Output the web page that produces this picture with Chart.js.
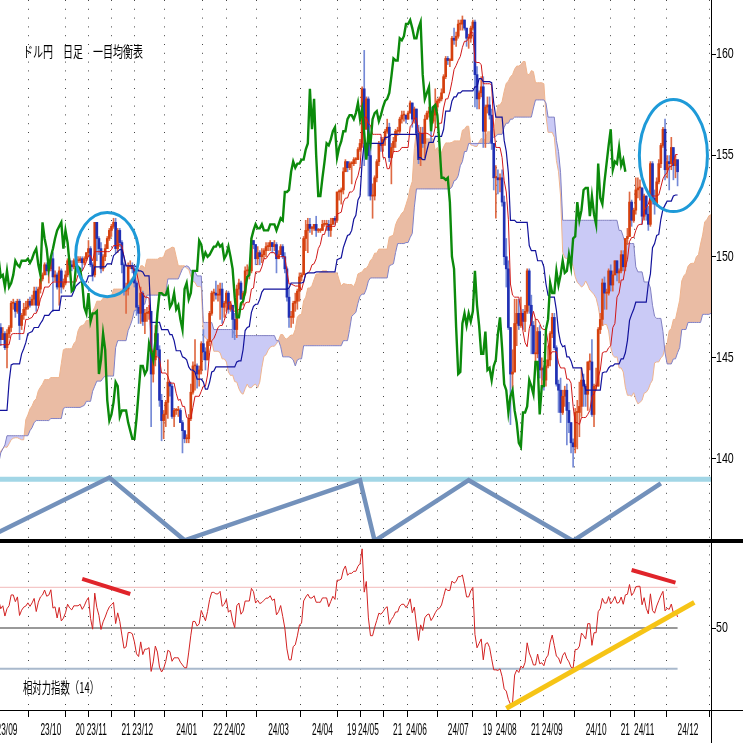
<!DOCTYPE html>
<html lang="ja">
  <head>
    <meta charset="UTF-8" />
    <title>ドル円 日足 一目均衡表</title>
    <style>
      * { margin: 0; padding: 0; border: none; box-sizing: border-box; }
      body { background: #fff; }
      #grafico { width: 743px; height: 743px; }
    </style>
  </head>
  <body>
    <div id="grafico"><canvas id="grafico1" width="743" height="743"></canvas></div>

    <script src="https://cdn.jsdelivr.net/npm/chart.js"></script>
    <script>
      // 日足（平日のみ）2023/05/01 〜 2024/11/25
      const START = '2023-05-01'
      const ORIGIN = '2023-09-01'

      const closes = [
        137.5,136.6,134.7,134.3,134.8,135.1,135.2,134.4,134.5,135.7,136.1,136.4,137.6,138.7,137.9,138.6,138.6,139.5,140.0,140.6,140.4,139.8,139.3,
        138.8,139.9,139.6,139.6,140.1,139.0,139.4,139.6,140.2,140.0,140.3,141.8,141.9,141.5,141.9,143.1,143.7,143.5,143.9,144.3,144.7,144.3,
        144.6,144.5,144.6,144.1,142.1,141.3,140.4,138.4,138.1,138.8,138.7,139.3,139.6,140.0,141.8,141.5,140.9,140.3,139.5,141.2,142.3,
        143.3,143.3,142.6,141.8,142.5,143.4,143.7,144.7,144.9,145.6,145.6,146.3,145.8,145.4,146.2,145.9,144.8,146.1,146.4,146.5,145.9,146.2,145.5,
        146.2,146.5,147.7,147.7,147.3,147.8,146.6,147.1,147.4,147.5,147.8,147.6,147.9,148.3,147.6,148.4,148.9,149.1,149.6,149.3,149.4,
        149.9,149.0,149.1,148.5,149.3,148.5,148.7,149.1,149.8,149.6,149.5,149.8,149.8,149.8,149.9,149.7,149.9,150.2,150.4,149.6,149.1,151.7,
        150.9,150.4,149.4,150.0,150.4,150.9,151.3,151.5,151.7,150.4,151.3,150.7,149.6,148.3,148.4,149.5,149.5,149.4,148.7,147.5,147.2,148.2,
        146.8,147.2,147.2,147.3,144.2,144.9,146.2,145.4,142.9,141.9,142.2,142.8,143.8,143.6,142.1,142.4,142.4,142.4,141.8,141.4,141.0,
        141.0,142.0,143.3,144.6,144.6,144.2,144.4,145.7,145.3,144.9,145.8,147.2,148.2,148.2,148.1,148.1,148.4,147.5,147.7,148.2,147.4,147.6,146.9,
        146.4,148.4,148.7,147.9,148.2,149.3,149.3,149.3,150.8,150.6,149.9,150.2,150.0,150.1,150.3,150.5,150.5,150.7,150.5,150.6,149.9,
        150.1,150.5,150.0,149.4,148.0,147.0,147.0,147.7,147.8,148.3,149.0,149.1,150.9,151.3,151.6,151.4,151.4,151.6,151.3,151.3,151.3,
        151.6,151.6,151.6,151.3,151.6,151.9,151.8,153.2,153.2,153.3,154.2,154.7,154.4,154.6,154.6,154.8,154.8,155.3,155.6,158.3,156.3,157.8,
        155.0,153.0,153.0,153.9,154.7,155.6,155.5,155.8,156.2,156.4,154.9,155.4,155.7,156.2,156.2,156.8,157.0,157.0,156.8,157.1,157.6,156.8,157.3,
        156.1,154.8,156.1,155.6,156.8,157.1,157.2,156.7,157.0,157.4,157.7,157.8,158.1,158.9,159.8,159.7,159.7,160.8,160.7,160.9,
        161.5,161.5,161.7,161.3,160.8,160.8,161.3,161.6,159.0,157.8,158.1,158.4,156.2,157.4,157.5,157.0,155.6,153.9,153.9,153.8,153.9,152.7,150.0,
        149.4,146.5,144.2,144.3,146.7,147.2,146.6,147.2,146.8,147.3,149.3,147.6,146.6,145.2,145.2,146.3,144.4,144.5,143.9,144.6,144.9,146.2,
        147.0,145.5,143.7,143.4,142.3,143.1,143.4,142.4,141.8,140.8,140.6,142.3,142.3,142.6,143.9,143.6,143.2,144.8,144.8,142.2,143.6,
        143.6,146.4,146.9,148.7,148.2,148.2,149.3,148.6,149.1,149.8,149.2,149.3,150.1,149.5,150.9,151.0,152.7,151.8,152.3,153.3,153.4,153.4,152.0,
        153.0,152.1,151.6,154.6,152.9,152.6,153.7,154.6,155.5,156.3,154.3,154.7,154.6,155.4,154.5,154.8,154.2
      ]
      const highs = [
        137.8,137.8,136.8,135.0,135.2,135.2,135.4,135.5,134.8,135.8,136.3,136.6,137.8,138.8,138.7,138.7,138.9,139.6,140.2,140.9,140.9,140.6,140.1,
        139.5,140.0,140.2,139.9,140.3,140.2,139.6,139.8,140.3,140.4,141.1,141.9,142.0,142.0,142.3,143.2,143.9,143.8,144.1,144.5,145.0,145.1,
        144.9,144.7,144.7,144.7,144.2,142.6,141.6,140.5,139.0,139.4,139.1,139.4,139.9,140.5,141.9,142.0,141.8,141.0,140.8,141.2,142.7,
        143.5,143.8,143.9,142.9,142.6,143.5,143.9,144.9,145.0,145.6,145.9,146.4,146.6,145.9,146.4,146.4,146.0,146.2,146.6,146.8,146.7,146.5,146.3,
        146.4,146.6,147.8,147.9,147.8,147.9,147.9,147.2,147.7,147.8,147.9,148.0,148.1,148.5,148.5,148.5,148.9,149.2,149.7,149.7,149.6,
        150.0,150.2,149.3,149.2,149.5,149.4,148.9,149.3,149.9,149.9,149.8,149.9,149.9,150.0,150.0,150.0,150.0,150.2,150.8,150.5,149.7,151.7,
        151.7,151.0,150.7,150.1,150.6,151.0,151.4,151.6,151.9,151.9,151.4,151.4,150.8,149.7,148.7,149.7,149.8,149.7,149.5,148.8,147.6,148.5,
        148.3,147.4,147.5,147.6,147.3,145.0,146.6,146.6,145.6,143.2,142.4,142.9,144.9,143.8,143.7,142.5,142.5,142.6,142.5,141.9,141.4,
        141.2,142.2,143.7,144.8,145.9,144.7,144.6,145.8,146.4,145.5,145.9,147.3,148.3,148.4,148.8,148.6,148.7,148.7,147.8,148.3,148.3,147.8,147.6,
        147.2,148.6,148.9,148.8,148.3,149.5,149.6,149.5,150.9,150.8,150.6,150.5,150.3,150.4,150.4,150.7,150.7,150.8,150.7,150.8,150.7,
        150.3,150.6,150.6,150.2,149.5,148.4,147.3,147.8,148.2,148.4,149.2,149.2,151.0,151.8,151.9,151.9,151.5,151.6,152.0,151.4,151.4,
        151.8,151.8,151.8,151.8,151.9,151.9,152.0,153.2,153.3,153.4,154.4,154.8,154.7,154.7,154.7,154.9,154.9,155.4,155.8,158.4,160.2,157.9,
        157.9,155.9,153.6,154.0,154.8,155.7,155.9,155.9,156.3,156.8,156.6,155.6,155.9,156.3,156.4,156.9,157.2,157.2,157.0,157.2,157.7,157.6,157.4,
        157.3,156.5,156.4,156.4,157.0,157.2,157.4,157.4,157.2,158.3,157.8,157.9,158.3,159.0,159.9,159.9,159.8,160.9,161.3,161.1,
        161.7,161.7,161.9,161.7,161.3,161.0,161.4,161.7,161.7,159.4,158.2,158.9,158.9,157.5,157.9,157.9,157.3,155.6,154.5,154.3,154.1,154.3,153.0,
        150.9,149.8,146.5,145.4,147.9,147.9,147.9,148.0,147.4,147.6,149.4,149.4,148.1,146.8,146.9,146.5,146.6,145.0,144.6,144.9,145.6,146.3,
        147.2,147.2,145.6,143.9,144.0,143.4,143.6,143.7,142.8,141.8,141.0,142.5,142.9,143.8,144.5,144.2,143.7,144.8,145.2,145.9,143.7,
        144.5,146.5,147.2,148.9,149.0,148.4,149.4,149.6,149.3,149.8,149.8,149.4,150.3,150.3,150.9,151.4,153.2,152.8,152.4,153.9,153.9,153.8,153.4,
        153.1,153.0,152.5,154.7,154.7,153.3,153.9,154.8,155.6,156.4,156.8,155.0,155.0,155.9,155.0,155.0,154.7
      ]
      const lows = [
        136.2,136.3,134.5,133.6,133.5,134.7,134.8,133.7,133.8,134.4,135.5,135.9,136.3,137.5,137.5,137.6,138.3,138.5,139.2,139.6,140.1,139.5,138.9,
        138.4,138.6,139.3,139.2,139.0,138.8,138.8,139.1,139.5,139.4,139.4,140.2,141.5,141.1,141.3,141.8,142.9,143.1,143.3,143.9,144.2,143.9,
        144.3,144.3,144.2,143.6,141.8,141.0,140.2,138.4,137.2,137.8,138.2,138.2,138.8,139.5,140.0,141.0,140.6,140.2,138.1,138.0,140.8,
        142.3,142.7,142.2,141.5,141.5,142.5,143.0,143.6,144.5,144.8,145.1,145.4,145.5,144.9,145.3,145.6,144.5,144.7,145.8,145.9,145.6,145.9,145.4,
        144.5,146.0,146.3,147.4,147.0,147.2,145.9,146.4,146.9,147.1,147.4,147.5,147.7,147.6,147.3,147.6,148.2,148.8,149.1,149.1,148.7,
        149.3,147.3,148.8,148.4,147.6,148.2,148.4,148.6,149.0,149.4,149.3,149.4,149.6,149.7,149.7,149.3,149.6,149.8,150.0,149.5,148.8,149.0,
        149.8,150.1,149.2,149.3,149.8,150.4,150.8,151.0,151.4,150.2,150.2,150.5,149.2,148.1,147.2,148.1,149.4,149.2,148.5,147.1,146.7,146.7,
        146.6,146.2,146.8,146.9,141.6,143.8,144.6,145.1,142.6,140.9,141.0,141.6,142.0,143.1,142.0,141.6,142.2,142.1,141.8,140.3,140.8,
        140.8,140.8,141.9,143.2,143.4,143.5,143.6,144.2,144.9,144.4,144.9,145.6,147.1,147.8,147.9,147.8,146.9,146.7,147.0,147.3,147.2,147.3,146.0,
        145.9,146.0,148.1,147.9,147.6,148.1,149.1,148.9,149.2,150.4,149.6,149.6,149.6,149.7,149.9,150.0,150.3,150.3,150.2,150.3,149.2,
        149.9,150.1,149.9,149.2,147.8,146.5,146.5,146.7,147.3,147.4,147.8,148.8,149.2,150.3,150.2,151.2,151.1,151.3,151.0,151.2,151.2,
        151.3,151.5,151.3,151.0,151.0,151.6,151.6,151.7,152.8,152.6,153.1,154.2,154.2,154.3,153.6,154.5,154.6,154.8,155.2,155.4,154.5,156.3,
        153.0,152.8,151.9,152.8,153.7,154.5,155.2,155.2,155.5,156.1,154.7,153.6,155.2,155.4,156.0,156.1,156.6,156.7,156.6,156.8,157.1,156.4,156.6,
        156.0,154.6,154.5,155.4,154.9,156.8,156.9,155.7,156.6,156.4,157.2,157.6,157.7,158.1,158.8,159.5,159.4,159.7,160.5,160.4,
        160.8,161.2,161.2,161.2,160.4,160.3,160.6,161.2,157.4,157.3,157.3,157.9,155.4,155.4,157.1,156.8,155.3,153.3,151.9,153.1,153.2,152.5,149.6,
        148.5,146.4,141.7,143.5,144.3,145.6,146.4,146.5,146.4,146.3,147.2,147.2,145.2,145.2,144.4,145.0,144.0,143.5,143.4,143.6,144.5,144.6,
        146.0,145.4,143.6,142.3,141.8,142.2,142.6,140.7,141.3,140.3,139.6,140.3,140.5,141.1,142.1,142.6,142.6,142.4,144.4,142.1,141.6,
        143.4,143.6,146.2,146.6,147.4,147.4,148.1,148.3,148.3,149.1,148.8,148.7,149.2,149.3,149.3,150.6,151.0,151.5,151.7,152.1,152.9,152.8,151.6,
        151.8,151.8,151.3,151.5,152.6,152.1,152.5,153.6,154.4,155.4,153.8,153.9,153.3,154.3,153.8,153.9,153.5
      ]

      // 目盛
      const tickDates = ['2023-09-01','2023-10-02','2023-10-20','2023-11-01','2023-11-21','2023-12-01','2024-01-01','2024-01-22',
        '2024-02-01','2024-03-01','2024-04-01','2024-04-19','2024-05-01','2024-05-21','2024-06-03','2024-07-01','2024-07-19',
        '2024-08-01','2024-08-21','2024-09-02','2024-10-01','2024-10-21','2024-11-01','2024-12-02']
      const tickLabels = ['23/09','23/10','20','23/11','21','23/12','24/01','22','24/02','24/03','24/04','19','24/05','21',
        '24/06','24/07','19','24/08','21','24/09','24/10','21','24/11','24/12']
      const priceTicks = [140, 145, 150, 155, 160]
      const rsiTicks = [50]
      const rsiLevels = [70, 50, 30]

      // 書き込み（サイクル線・丸・トレンドライン）
      const cycleDates = ['2023-08-28','2023-11-09','2023-12-29','2024-04-25','2024-05-06','2024-07-08','2024-09-16','2024-11-13']
      const cyclePrices = [136.38, 139.08, 135.98, 138.95, 135.95, 138.95, 135.95, 138.8]
      const supportLevel = 139.0
      const circleDates = ['2023-11-08', '2024-11-21']
      const circlePrices = [150.1, 155.0]
      const circleHalfDays = [15.1, 16.3]
      const circleHalfYen = [2.08, 2.77]
      const rsiRedDates = [['2023-10-23','2023-11-23'], ['2024-10-24','2024-11-22']]
      const rsiRedValues = [[74.1, 66.7], [78.5, 72.3]]
      const rsiYellowDates = ['2024-08-01', '2024-12-05']
      const rsiYellowValues = [10.5, 62.6]

      const TENKAN = 9, KIJUN = 26, SPAN_B = 52, SHIFT = 25, RSI_N = 14
      const X_MIN = -3.35, X_MAX = 337

      const weekdaysFrom = (a, b) => {
        const d0 = Date.parse(a), d1 = Date.parse(b)
        let t = Math.min(d0, d1), n = 0
        while (t < Math.max(d0, d1)) {
          const wd = new Date(t).getUTCDay()
          if (wd !== 0 && wd !== 6) n++
          t += 86400000
        }
        return d1 >= d0 ? n : -n
      }
      const dayX = d => weekdaysFrom(ORIGIN, d)

      const n = closes.length
      if (highs.length !== n || lows.length !== n || n !== 411) {
        throw new Error('length mismatch ' + n + ' ' + highs.length + ' ' + lows.length)
      }
      const x0 = dayX(START)
      const iFirst = Math.max(0, Math.floor(X_MIN) - x0)
      const lastX = x0 + n - 1

      const midRange = (i, len) => {
        let h = -Infinity, l = Infinity
        for (let k = Math.max(0, i - len + 1); k <= i; k++) {
          h = Math.max(h, highs[k]); l = Math.min(l, lows[k])
        }
        return (h + l) / 2
      }

      // RSI（ワイルダー平滑）
      const rsiAll = new Array(n).fill(null)
      let avgUp = 0, avgDn = 0
      for (let k = 1; k <= RSI_N; k++) {
        const d = closes[k] - closes[k - 1]
        if (d > 0) avgUp += d; else avgDn -= d
      }
      avgUp /= RSI_N; avgDn /= RSI_N
      rsiAll[RSI_N] = 100 * avgUp / (avgUp + avgDn)
      for (let i = RSI_N + 1; i < n; i++) {
        const d = closes[i] - closes[i - 1]
        avgUp = (avgUp * (RSI_N - 1) + Math.max(d, 0)) / RSI_N
        avgDn = (avgDn * (RSI_N - 1) + Math.max(-d, 0)) / RSI_N
        rsiAll[i] = 100 * avgUp / (avgUp + avgDn)
      }

      const bodies = [], wicks = [], isUp = []
      const tenkan = [], kijun = [], rsi = []
      for (let i = iFirst; i < n; i++) {
        const o = i > 0 ? closes[i - 1] : closes[i]
        bodies.push({ x: x0 + i, y: [o, closes[i]] })
        wicks.push({ x: x0 + i, y: [lows[i], highs[i]] })
        isUp.push(closes[i] >= o)
        tenkan.push({ x: x0 + i, y: midRange(i, TENKAN) })
        kijun.push({ x: x0 + i, y: midRange(i, KIJUN) })
        rsi.push({ x: x0 + i, y: rsiAll[i] })
      }
      const spanA = [], spanB = []
      for (let i = Math.max(SPAN_B - 1, iFirst - SHIFT); i < n; i++) {
        spanA.push({ x: x0 + i + SHIFT, y: (midRange(i, TENKAN) + midRange(i, KIJUN)) / 2 })
        spanB.push({ x: x0 + i + SHIFT, y: midRange(i, SPAN_B) })
      }
      const chikou = []
      for (let i = iFirst + SHIFT; i < n; i++) chikou.push({ x: x0 + i - SHIFT, y: closes[i] })

      const UP = '#d5400e', DOWN = '#2030b4'
      const line = (data, color, width, axis, order) => ({
        type: 'line', data, borderColor: color, borderWidth: width, pointRadius: 0,
        tension: 0, fill: false, yAxisID: axis, order
      })

      const datasets = [
        { ...line(spanA, '#efb48e', 1, 'y', 30),
          fill: { target: '+1', above: 'rgb(234,188,164)', below: 'rgb(202,202,246)' } },
        line(spanB, '#8080c4', 1, 'y', 29),
        { type: 'bar', data: wicks, yAxisID: 'y', order: 20, grouped: false, barThickness: 1,
          backgroundColor: isUp.map(u => u ? '#df6a44' : '#7489d6') },
        { type: 'bar', data: bodies, yAxisID: 'y', order: 19, grouped: false, barThickness: 2, minBarLength: 1,
          backgroundColor: isUp.map(u => u ? UP : DOWN) },
        line(tenkan, '#d01818', 1, 'y', 10),
        line(kijun, '#12129c', 1.2, 'y', 9),
        line(chikou, '#0b8a0b', 2.4, 'y', 8),
        line([{ x: X_MIN, y: supportLevel }, { x: X_MAX, y: supportLevel }], '#a2d6e6', 5, 'y', 3),
        line(cycleDates.map((d, k) => ({ x: dayX(d), y: cyclePrices[k] })), '#7391bb', 4.5, 'y', 2),
        line([{ x: X_MIN, y: rsiLevels[0] }, { x: lastX, y: rsiLevels[0] }], '#f2b9b9', 1, 'yr', 7),
        line([{ x: X_MIN, y: rsiLevels[1] }, { x: lastX, y: rsiLevels[1] }], '#777777', 1.5, 'yr', 7),
        line([{ x: X_MIN, y: rsiLevels[2] }, { x: lastX, y: rsiLevels[2] }], '#a9b9cc', 2, 'yr', 7),
        line(rsi, '#d22222', 1, 'yr', 6),
        ...rsiRedDates.map((ds, k) => line(ds.map((d, j) => ({ x: dayX(d), y: rsiRedValues[k][j] })), '#e0242a', 4, 'yr', 1)),
        line(rsiYellowDates.map((d, j) => ({ x: dayX(d), y: rsiYellowValues[j] })), '#f6c416', 5, 'yr', 1)
      ]

      const drawNarrow = (ctx, text, x, y, sx) => {
        ctx.save(); ctx.translate(x, y); ctx.scale(sx, 1); ctx.fillText(text, 0, 0); ctx.restore()
      }

      const overlay = {
        id: 'overlay',
        afterDatasetsDraw(chart) {
          const { ctx, scales: { x, y } } = chart
          ctx.save()
          ctx.strokeStyle = '#1e9ad8'
          ctx.lineWidth = 3
          circleDates.forEach((d, k) => {
            const cx = x.getPixelForValue(dayX(d)), cy = y.getPixelForValue(circlePrices[k])
            const rx = Math.abs(x.getPixelForValue(dayX(d) + circleHalfDays[k]) - cx)
            const ry = Math.abs(y.getPixelForValue(circlePrices[k] + circleHalfYen[k]) - cy)
            ctx.beginPath(); ctx.ellipse(cx, cy, rx, ry, 0, 0, Math.PI * 2); ctx.stroke()
          })
          ctx.restore()
        },
        afterDraw(chart) {
          const { ctx, chartArea, scales: { x, y, yr } } = chart
          ctx.save()
          ctx.fillStyle = '#000'
          ctx.fillRect(chartArea.right, 0, 1, 743)
          ctx.fillRect(0, chartArea.bottom, 743, 1)
          ctx.fillRect(0, y.bottom - 2, 743, 4)

          ctx.textBaseline = 'middle'
          ctx.textAlign = 'center'
          ctx.font = '16px "Liberation Sans", Arial, sans-serif'
          x.ticks.forEach((t, k) => drawNarrow(ctx, tickLabels[k], x.getPixelForValue(t.value), 731, 0.52))

          ctx.textAlign = 'left'
          ctx.font = '14px "Liberation Sans", Arial, sans-serif'
          priceTicks.forEach(v => drawNarrow(ctx, String(v), chartArea.right + 5, y.getPixelForValue(v), 0.76))
          rsiTicks.forEach(v => drawNarrow(ctx, String(v), chartArea.right + 5, yr.getPixelForValue(v), 0.76))

          ctx.font = '15px "Noto Sans CJK JP", sans-serif'
          ctx.fillText('ドル円　日足　一目均衡表', 23, 51.5, 120)
          ctx.fillText('相対力指数（14）', 23, 687.5, 76)
          ctx.restore()
        }
      }

      const ctx = document.getElementById('grafico1')
      const grafico1 = new Chart(ctx, {
        type: 'line',
        data: { datasets },
        options: {
          responsive: false,
          animation: false,
          events: [],
          layout: { padding: 0 },
          plugins: { legend: { display: false }, tooltip: { enabled: false } },
          scales: {
            x: {
              type: 'linear', min: X_MIN, max: X_MAX, offset: false,
              afterBuildTicks: s => { s.ticks = tickDates.map(d => ({ value: dayX(d) })) },
              afterFit: s => { s.height = 33 },
              ticks: { display: false },
              grid: { color: '#444', lineWidth: 1, drawTicks: true, tickLength: 7, tickColor: '#000', tickBorderDash: [] },
              border: { display: false, dash: [1, 7.8] }
            },
            y: {
              type: 'linear', position: 'right', stack: 'panel', stackWeight: 541,
              min: 135.946, max: 162.69,
              afterBuildTicks: s => { s.ticks = priceTicks.map(v => ({ value: v })) },
              afterFit: s => { s.width = 32 },
              ticks: { display: false },
              grid: { drawOnChartArea: false, drawTicks: true, tickLength: 5, tickColor: '#000' },
              border: { display: false }
            },
            yr: {
              type: 'linear', position: 'right', stack: 'panel', stackWeight: 169,
              min: 9.71, max: 92.75,
              afterBuildTicks: s => { s.ticks = rsiTicks.map(v => ({ value: v })) },
              afterFit: s => { s.width = 32 },
              ticks: { display: false },
              grid: { drawOnChartArea: false, drawTicks: true, tickLength: 5, tickColor: '#000' },
              border: { display: false }
            }
          }
        },
        plugins: [overlay]
      })
    </script>
  </body>
</html>
